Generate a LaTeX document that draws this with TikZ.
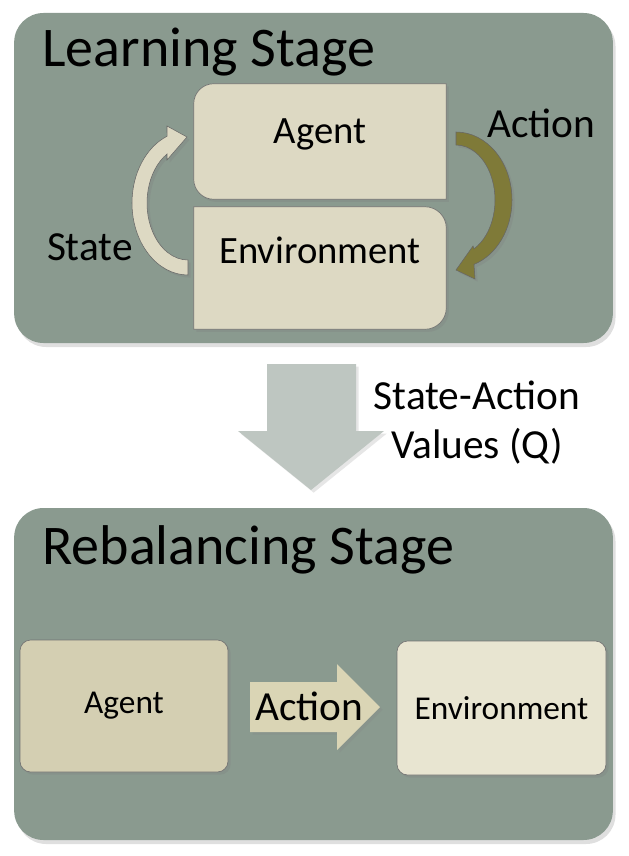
\documentclass[tikz,border=0pt]{standalone}
\usepackage{fontspec}
\setmainfont{Carlito}
\usetikzlibrary{shadows}

\definecolor{panelgray}{HTML}{8A9A8F}
\definecolor{boxtan}{HTML}{DDD9C3}
\definecolor{actolive}{HTML}{7F7A38}
\definecolor{qgray}{HTML}{BEC6C1}
\definecolor{agenttan}{HTML}{D4CFB2}
\definecolor{envcream}{HTML}{E8E5D1}
\definecolor{acttan}{HTML}{DAD5B5}

\begin{document}
\begin{tikzpicture}[x=0.75pt,y=-0.75pt]
	\tikzstyle{panel}=[rectangle,rounded corners=22pt,fill=panelgray,minimum width=449pt,drop shadow={opacity=0.25,shadow xshift=2pt,shadow yshift=-3pt}]
	\tikzstyle{stage title}=[anchor=base west,inner sep=0pt,font=\fontsize{42}{50}\selectfont]
	\tikzstyle{box}=[draw=black!55,line width=0.5pt,fill=boxtan,drop shadow={opacity=0.3,shadow xshift=2pt,shadow yshift=-2pt}]
	\tikzstyle{box text}=[anchor=base,inner sep=0pt,font=\fontsize{29}{34}\selectfont]
	\tikzstyle{small box text}=[font=\fontsize{25}{30}\selectfont]
	\tikzstyle{label text}=[inner sep=0pt,font=\fontsize{31}{37}\selectfont]
	\tikzstyle{loop arrow}=[draw=black!60,line width=0.4pt,drop shadow={opacity=0.3,shadow xshift=2pt,shadow yshift=-2pt}]
	\tikzstyle{block arrow}=[drop shadow={opacity=0.2,shadow xshift=2pt,shadow yshift=-2pt}]

	\useasboundingbox (0,0) rectangle (628,856);

	% the two stages
	\node[panel,minimum height=247.5pt] (learn) at (313.5,178) {};
	\node[panel,minimum height=249pt] (rebal) at (313.5,674) {};
	\node[stage title] (learnT) at (42,66) {Learning Stage};
	\node[stage title] (rebalT) at (42,564) {Rebalancing Stage};

	% learning loop
	\node[minimum width=189pt,minimum height=86.25pt] (agentL) at (320,141.5) {};
	\node[minimum width=189pt,minimum height=91.5pt] (envL) at (320,268) {};
	\path[box] (agentL.north east) -- (agentL.south east) -- ([xshift=15pt]agentL.south west) arc[start angle=270,end angle=180,radius=15pt] -- ([yshift=-15pt]agentL.north west) arc[start angle=180,end angle=90,radius=15pt] -- cycle;
	\path[box] (envL.north west) -- ([xshift=-16pt]envL.north east) arc[start angle=90,end angle=0,radius=16pt] -- ([yshift=16pt]envL.south east) arc[start angle=0,end angle=-90,radius=16pt] -- (envL.south west) -- cycle;
	\node[box text] (agentLt) at (320,143) {Agent};
	\node[box text] (envLt) at (320,263) {Environment};

	\coordinate (stateC) at (188,203);
	\coordinate (actC) at (456,200);
	\begin{scope}[shift={(stateC)}]
		\path[loop arrow,fill=boxtan] (0,72) arc[start angle=270,end angle=112,x radius=42pt,y radius=54pt] -- (-21,-77) -- (-1,-66) -- (-21,-43) -- (120.8:30.75pt and 42.75pt) arc[start angle=120.8,end angle=270,x radius=30.75pt,y radius=42.75pt] -- cycle;
	\end{scope}
	\begin{scope}[shift={(actC)}]
		\path[loop arrow,fill=actolive] (0,-68) arc[start angle=90,end angle=-71.3,x radius=42pt,y radius=51pt] -- (19,79) -- (0,70) -- (17,46) -- (-62.6:29.25pt and 41.25pt) arc[start angle=-62.6,end angle=90,x radius=29.25pt,y radius=41.25pt] -- cycle;
	\end{scope}
	\node[label text,anchor=base east] (stateT) at (133,260) {State};
	\node[label text,anchor=base west] (actionT) at (487,137) {Action};

	% Q values passed down
	\path[block arrow,fill=qgray] (267,364) -- (356,364) -- (356,431) -- (384,431) -- (311,490) -- (238,431) -- (267,431) -- cycle;
	\node[label text,anchor=base] (qT1) at (477,409) {State-Action};
	\node[label text,anchor=base] (qT2) at (477,458) {Values (Q)};

	% rebalancing
	\node[box,fill=agenttan,rounded corners=8pt,minimum width=156pt,minimum height=99pt,small box text] (agentR) at (124,706) {Agent};
	\node[box,fill=envcream,rounded corners=8pt,minimum width=156.75pt,minimum height=100.5pt,small box text] (envR) at (501.5,708) {Environment};
	\path[block arrow,fill=acttan] (250,682) -- (337,682) -- (337,664) -- (380,707) -- (337,750) -- (337,732) -- (250,732) -- cycle;
	\node[label text,anchor=base west] (actR) at (255,720) {Action};
\end{tikzpicture}
\end{document}
